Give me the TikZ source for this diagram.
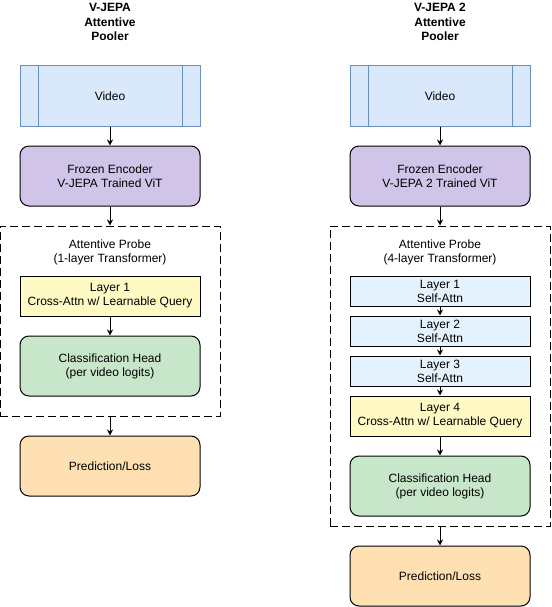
\documentclass[tikz,border=0pt]{standalone}
\usepackage{fontspec}
\setmainfont{Liberation Sans}
\usetikzlibrary{positioning,arrows.meta}
\definecolor{videofill}{HTML}{DAE8FC}
\definecolor{videoline}{HTML}{6C8EBF}
\definecolor{encfill}{HTML}{D1C4E9}
\definecolor{crossfill}{HTML}{FFF9C4}
\definecolor{selffill}{HTML}{E3F2FD}
\definecolor{headfill}{HTML}{C8E6C9}
\definecolor{predfill}{HTML}{FFE0B2}
\tikzstyle{heading} = [font=\fontsize{12}{14.5}\selectfont\bfseries, align=center]
\tikzstyle{block} = [draw, rectangle, rounded corners=9pt, minimum height=60pt, minimum width=180pt, align=center]
\tikzstyle{layer} = [draw, rectangle, inner sep=1pt, minimum width=180pt, align=center]
\tikzstyle{probe} = [draw, dash pattern=on 8pt off 4pt, rectangle, minimum width=220pt]
\tikzstyle{label} = [align=center]
\tikzset{videobox/.style={
    draw=videoline, fill=videofill, rectangle, minimum height=60pt, minimum width=180pt,
    path picture={
        \draw[videoline]
            ([xshift=18pt]path picture bounding box.north west) -- ([xshift=18pt]path picture bounding box.south west)
            ([xshift=-18pt]path picture bounding box.north east) -- ([xshift=-18pt]path picture bounding box.south east);
        }
    }
}

\begin{document}
\begin{tikzpicture}[auto, x=1pt, y=1pt, line width=1pt, >={Stealth[length=6pt,width=6pt]},
        font=\fontsize{12}{14}\selectfont]
        \useasboundingbox (0,0) rectangle (551,-607);

        % V-JEPA
        \node [heading] (title1) at (110,-22) {V-JEPA\\Attentive\\Pooler};
        \node [videobox, below of=title1, node distance=74pt] (vid1) {Video};
        \node [block, fill=encfill, below of=vid1, node distance=80pt] (enc1) {Frozen Encoder\\V-JEPA Trained ViT};
        \node [probe, minimum height=190pt, below of=enc1, node distance=145pt] (probe1) {};
        \node [label, below of=enc1, node distance=76pt] (lbl1) {Attentive Probe\\(1-layer Transformer)};
        \node [layer, fill=crossfill, minimum height=40pt, below of=enc1, node distance=120pt] (cross1) {Layer 1\\Cross-Attn w/ Learnable Query};
        \node [block, fill=headfill, below of=cross1, node distance=70pt] (head1) {Classification Head\\(per video logits)};
        \node [block, fill=predfill, below of=probe1, node distance=145pt] (pred1) {Prediction/Loss};

        \draw [->] (vid1) -- (enc1);
        \draw [->] (enc1) -- (probe1.north);
        \draw [->] (cross1) -- (head1);
        \draw [->] (probe1.south) -- (pred1);

        % V-JEPA 2
        \node [heading] (title2) at (440,-22) {V-JEPA 2\\Attentive\\Pooler};
        \node [videobox, below of=title2, node distance=74pt] (vid2) {Video};
        \node [block, fill=encfill, below of=vid2, node distance=80pt] (enc2) {Frozen Encoder\\V-JEPA 2 Trained ViT};
        \node [probe, minimum height=300pt, below of=enc2, node distance=200pt] (probe2) {};
        \node [label, below of=enc2, node distance=76pt] (lbl2) {Attentive Probe\\(4-layer Transformer)};
        \node [layer, fill=selffill, minimum height=30pt, below of=enc2, node distance=115pt] (self1) {Layer 1\\Self-Attn};
        \node [layer, fill=selffill, minimum height=30pt, below of=self1, node distance=40pt] (self2) {Layer 2\\Self-Attn};
        \node [layer, fill=selffill, minimum height=30pt, below of=self2, node distance=40pt] (self3) {Layer 3\\Self-Attn};
        \node [layer, fill=crossfill, minimum height=40pt, below of=self3, node distance=45pt] (cross2) {Layer 4\\Cross-Attn w/ Learnable Query};
        \node [block, fill=headfill, below of=cross2, node distance=70pt] (head2) {Classification Head\\(per video logits)};
        \node [block, fill=predfill, below of=probe2, node distance=200pt] (pred2) {Prediction/Loss};

        \draw [->] (vid2) -- (enc2);
        \draw [->] (enc2) -- (probe2.north);
        \draw [->] (self1) -- (self2);
        \draw [->] (self2) -- (self3);
        \draw [->] (self3) -- (cross2);
        \draw [->] (cross2) -- (head2);
        \draw [->] (probe2.south) -- (pred2);
    \end{tikzpicture}
\end{document}
